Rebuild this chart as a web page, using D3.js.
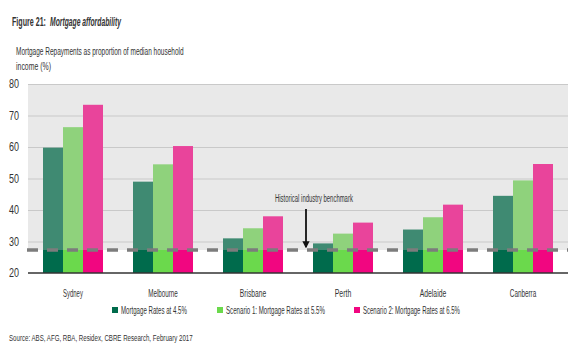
<!DOCTYPE html>
<html>
<head>
<meta charset="utf-8">
<script src="https://cdn.jsdelivr.net/npm/d3@7"></script>
<style>
  body { margin: 0; background: #fff; }
  svg text { font-family: "Liberation Sans", "DejaVu Sans", sans-serif; fill: #333; }
</style>
</head>
<body>
<div id="chart"></div>
<script>
const cities = ["Sydney", "Melbourne", "Brisbane", "Perth", "Adelaide", "Canberra"];
const seriesNames = ["Mortgage Rates at 4.5%", "Scenario 1: Mortgage Rates at 5.5%", "Scenario 2: Mortgage Rates at 6.5%"];
const rate45 = [59.8, 49.0, 31.0, 29.4, 33.8, 44.5];
const rate55 = [66.3, 54.5, 34.2, 32.5, 37.7, 49.4];
const rate65 = [73.4, 60.3, 38.0, 36.0, 41.7, 54.6];
const benchmark = 27.3;
const yTicks = [20, 30, 40, 50, 60, 70, 80];

const topColors = ["#3f8a72", "#8fd27c", "#e9449b"];
const baseColors = ["#006b4c", "#6bd94c", "#f10680"];

const width = 580, height = 352;
const margin = { top: 84, right: 12, bottom: 79, left: 28 };
const innerW = width - margin.left - margin.right;
const innerH = height - margin.top - margin.bottom;

const svg = d3.select("#chart").append("svg")
  .attr("width", width)
  .attr("height", height);

const g = svg.append("g")
  .attr("transform", `translate(${margin.left},${margin.top})`);

const x = d3.scaleBand()
  .domain(cities)
  .range([0, innerW])
  .paddingInner(1 / 3)
  .paddingOuter(1 / 6);

const xSub = d3.scaleBand()
  .domain(d3.range(3))
  .range([0, x.bandwidth()]);

const y = d3.scaleLinear()
  .domain([20, 80])
  .range([innerH, 0]);

// the original uses a condensed face: squeeze text horizontally to a target width
function narrowText(parent, tx, ty, str, size, w, anchor, weight, style) {
  const t = parent.append("text")
    .attr("font-size", size)
    .attr("text-anchor", anchor || "start")
    .attr("font-weight", weight || "normal")
    .attr("font-style", style || "normal")
    .text(str);
  const k = w / t.node().getComputedTextLength();
  t.attr("transform", `translate(${tx},${ty}) scale(${k},1)`);
  return t;
}

// Background: grey above the benchmark, white below
g.append("rect")
  .attr("x", 0)
  .attr("y", y(80))
  .attr("width", innerW)
  .attr("height", y(benchmark) - y(80))
  .attr("fill", "#e9e9e9");

// Grid lines
g.append("g")
  .call(d3.axisLeft(y).tickValues(yTicks.filter(d => d > 20)).tickSize(-innerW).tickFormat(""))
  .call(s => s.select(".domain").remove())
  .selectAll("line")
  .attr("stroke", "#c9c9c9")
  .attr("stroke-width", 1.2);

// Y tick labels
yTicks.forEach(d => narrowText(g, -9, y(d) + 4, d, 12, 10, "end"));

// Bars
const values = [rate45, rate55, rate65];
cities.forEach((city, ci) => {
  const grp = g.append("g").attr("transform", `translate(${x(city)},0)`);
  values.forEach((arr, si) => {
    const v = arr[ci];
    grp.append("rect")
      .attr("x", xSub(si))
      .attr("y", y(v))
      .attr("width", xSub.bandwidth())
      .attr("height", y(benchmark) - y(v))
      .attr("fill", topColors[si]);
    grp.append("rect")
      .attr("x", xSub(si))
      .attr("y", y(benchmark))
      .attr("width", xSub.bandwidth())
      .attr("height", y(20) - y(benchmark))
      .attr("fill", baseColors[si]);
  });
});

// Baseline
g.append("line")
  .attr("x1", 0).attr("x2", innerW)
  .attr("y1", y(20)).attr("y2", y(20))
  .attr("stroke", "#333")
  .attr("stroke-width", 1.5);

// Benchmark dashed line
g.append("line")
  .attr("x1", -1).attr("x2", innerW)
  .attr("y1", y(benchmark)).attr("y2", y(benchmark))
  .attr("stroke", "#7c7c7c")
  .attr("stroke-width", 3.5)
  .attr("stroke-dasharray", "11,9");

// Annotation
const arrowX = x("Perth") - 7;
narrowText(g, arrowX - 31, y(benchmark) - 48, "Historical industry benchmark", 11, 78);

svg.append("defs").append("marker")
  .attr("id", "arrow")
  .attr("viewBox", "0 0 10 10")
  .attr("refX", 8).attr("refY", 5)
  .attr("markerWidth", 4).attr("markerHeight", 4)
  .attr("orient", "auto")
  .append("path")
  .attr("d", "M0,0L10,5L0,10Z")
  .attr("fill", "#111");

g.append("line")
  .attr("x1", arrowX).attr("x2", arrowX)
  .attr("y1", y(benchmark) - 41)
  .attr("y2", y(benchmark) - 3)
  .attr("stroke", "#111")
  .attr("stroke-width", 1.8)
  .attr("marker-end", "url(#arrow)");

// Category labels
cities.forEach(d => narrowText(g, x(d) + x.bandwidth() / 2, innerH + 24, d, 10.5, d.length * 3.3, "middle"));

// Legend
const legendX = [112, 217, 354];
const legendW = [66, 99, 97];
seriesNames.forEach((name, i) => {
  const lg = svg.append("g")
    .attr("class", "legend")
    .attr("transform", `translate(${legendX[i]}, 314)`);
  lg.append("rect")
    .attr("x", 0).attr("y", -7)
    .attr("width", 6).attr("height", 6)
    .attr("fill", baseColors[i]);
  narrowText(lg, 9, 0, name, 10.5, legendW[i]);
});

// Titles
narrowText(svg, 12, 26, "Figure 21:", 13.5, 34, "start", "bold").attr("fill", "#222");
narrowText(svg, 50, 26, "Mortgage affordability", 13.5, 71, "start", "bold", "italic").attr("fill", "#222");

narrowText(svg, 16, 55, "Mortgage Repayments as proportion of median household", 11, 168);
narrowText(svg, 16, 70, "income (%)", 11, 35);

narrowText(svg, 9, 341, "Source: ABS, AFG, RBA, Residex, CBRE Research, February 2017", 9.5, 184)
  .attr("fill", "#666");
</script>
</body>
</html>
